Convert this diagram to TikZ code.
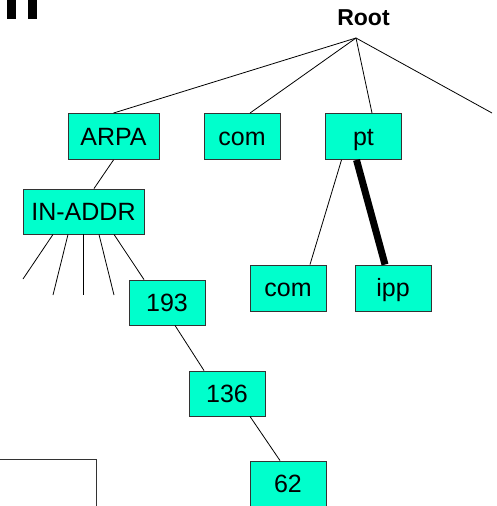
\documentclass[tikz,border=0pt]{standalone}
\usepackage{fontspec}
\setmainfont{Liberation Sans}
\usepackage{tikz}
\usetikzlibrary{positioning}
\definecolor{boxaqua}{RGB}{0,255,204}

\begin{document}
\begin{tikzpicture}[x=1pt, y=-1pt, every node/.style={inner sep=0pt},
    dom/.style={draw=black!80, line width=0.9pt, fill=boxaqua, minimum width=76pt, minimum height=46pt,
        font=\fontsize{25}{29}\selectfont, text height=17.5pt, text depth=0pt},
    link/.style={line width=0.8pt}]
    \useasboundingbox (0,0) rectangle (497,506);
    % Cut-off strokes and frame at the edges
    \fill (7,0) rectangle (16,19);
    \fill (28,0) rectangle (37,19);
    \draw[line width=1pt, black!80] (-1,459) -- (96,459) -- (96,507);
    % Root label
    \node[font=\bfseries\fontsize{23}{27}\selectfont, anchor=base] (rootlbl) at (363.5,25) {Root};
    \coordinate (root) at (356,38);
    \coordinate (rootright) at (492,113);
    % Domain boxes
    \node[dom, minimum width=91pt] (arpa) at (113.5,136.5) {ARPA};
    \node[dom] (comtop) at (242,136.5) {com};
    \node[dom] (pt) at (363.5,136.5) {pt};
    \node[dom, minimum width=121pt, minimum height=45pt] (inaddr) at (83.5,211.5) {IN-ADDR};
    \node[dom] (compt) at (288,288) {com};
    \node[dom] (ipp) at (393,288) {ipp};
    \node[dom, minimum height=45pt] (n193) at (167,302.5) {193};
    \node[dom, minimum height=45pt] (n136) at (227,393.5) {136};
    \node[dom] (n62) at (288,484) {62};
    % Edges from the root
    \draw[link] (root) -- (arpa.north);
    \draw[link] (root) -- ([xshift=8pt]comtop.north);
    \draw[link] (root) -- ([xshift=8.5pt]pt.north);
    \draw[link] (root) -- (rootright);
    % Edges below
    \draw[link] (arpa.south) -- ([xshift=10.5pt]inaddr.north);
    \draw[link] ([xshift=-22pt]pt.south) -- ([xshift=22pt]compt.north);
    \draw[line width=7pt] ([xshift=-7pt]pt.south) -- ([xshift=-8pt]ipp.north);
    \draw[link] ([xshift=30.5pt]inaddr.south) -- ([xshift=-23pt]n193.north);
    \draw[link] ([xshift=8pt]n193.south) -- ([xshift=-23pt]n136.north);
    \draw[link] ([xshift=23pt]n136.south) -- ([xshift=-8pt]n62.north);
    % Open branches under IN-ADDR
    \foreach \s/\x/\y [count=\i] in {-30.5/23/279, -15.5/53/295, -0.5/83/295, 15.5/114/295} {
        \coordinate (leaf\i) at (\x,\y);
        \draw[link] ([xshift=\s pt]inaddr.south) -- (leaf\i);
    }
\end{tikzpicture}
\end{document}
